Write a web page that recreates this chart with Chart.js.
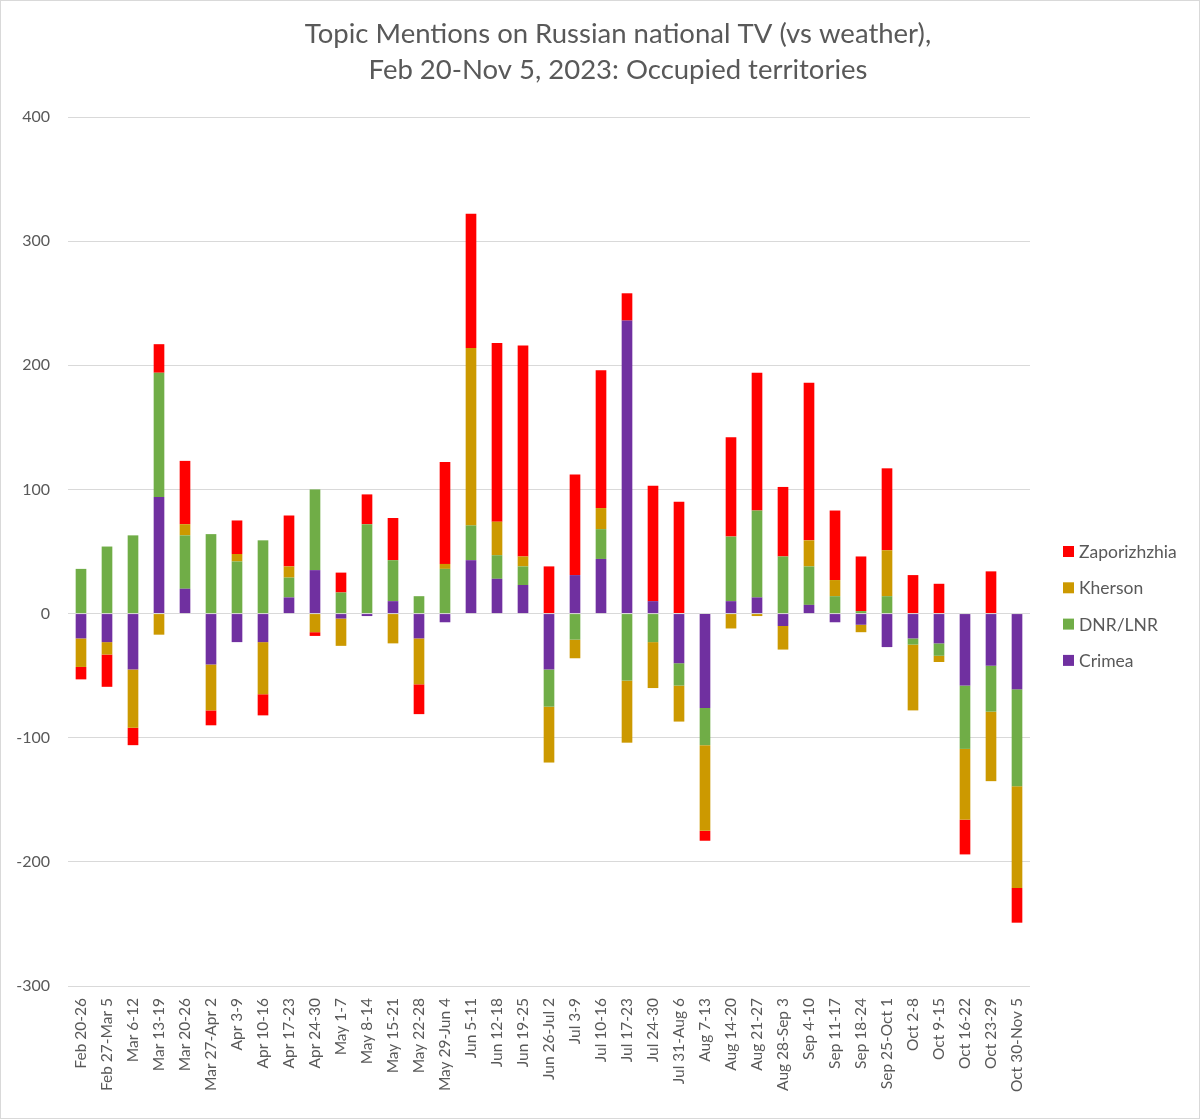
<!DOCTYPE html>
<html>
<head>
<meta charset="utf-8">
<title>Topic Mentions on Russian national TV</title>
<script src="https://cdn.jsdelivr.net/npm/chart.js@4.4.0/dist/chart.umd.min.js"></script>
<style>
    html, body { margin: 0; padding: 0; background: #fff; }
    #wrap { position: relative; width: 1200px; height: 1119px; }
</style>
</head>
<body>
<div id="wrap"><canvas id="mentionsChart" width="1200" height="1119"></canvas></div>
<script>
const weeks = [
    'Feb 20-26', 'Feb 27-Mar 5', 'Mar 6-12', 'Mar 13-19', 'Mar 20-26', 'Mar 27-Apr 2',
    'Apr 3-9', 'Apr 10-16', 'Apr 17-23', 'Apr 24-30', 'May 1-7', 'May 8-14',
    'May 15-21', 'May 22-28', 'May 29-Jun 4', 'Jun 5-11', 'Jun 12-18', 'Jun 19-25',
    'Jun 26-Jul 2', 'Jul 3-9', 'Jul 10-16', 'Jul 17-23', 'Jul 24-30', 'Jul 31-Aug 6',
    'Aug 7-13', 'Aug 14-20', 'Aug 21-27', 'Aug 28-Sep 3', 'Sep 4-10', 'Sep 11-17',
    'Sep 18-24', 'Sep 25-Oct 1', 'Oct 2-8', 'Oct 9-15', 'Oct 16-22', 'Oct 23-29',
    'Oct 30-Nov 5'
];

const crimea = [
    -20, -23, -45, 94, 20, -41, -23, -23, 13, 35, -4, -2,
    10, -20, -7, 43, 28, 23, -45, 31, 44, 236, 10, -40,
    -76, 10, 13, -10, 7, -7, -9, -27, -20, -24, -58, -42,
    -61
];
const dnrLnr = [
    36, 54, 63, 100, 43, 64, 42, 59, 16, 65, 17, 72,
    33, 14, 36, 28, 19, 15, -30, -21, 24, -54, -23, -18,
    -30, 52, 70, 46, 31, 14, 2, 14, -5, -10, -51, -37,
    -78
];
const kherson = [
    -23, -10, -47, -17, 9, -37, 6, -42, 9, -15, -22, 0,
    -24, -37, 4, 143, 27, 8, -45, -15, 17, -50, -37, -29,
    -69, -12, -2, -19, 21, 13, -6, 37, -53, -5, -57, -56,
    -82
];
const zaporizhzhia = [
    -10, -26, -14, 23, 51, -12, 27, -17, 41, -3, 16, 24,
    34, -24, 82, 108, 144, 170, 38, 81, 111, 22, 93, 90,
    -8, 80, 111, 56, 127, 56, 44, 66, 31, 24, -28, 34,
    -28
];

const yMin = -300;
const yMax = 400;
const yStep = 100;

const titleLines = [
    'Topic Mentions on Russian national TV (vs weather),',
    'Feb 20-Nov 5, 2023: Occupied territories'
];

const textColor = '#595959';
const gridColor = '#d9d9d9';
const fontFamily = 'Lato, "Liberation Sans", sans-serif';

// title, legend and chart frame, drawn in the style of the Excel original
const decorations = {
    id: 'decorations',
    afterDraw(chart) {
        const ctx = chart.ctx;
        ctx.save();

        ctx.strokeStyle = gridColor;
        ctx.lineWidth = 1;
        ctx.strokeRect(0.5, 0.5, chart.width - 1, chart.height - 1);

        ctx.fillStyle = textColor;
        ctx.font = `27.5px ${fontFamily}`;
        ctx.textAlign = 'center';
        ctx.textBaseline = 'middle';
        ctx.fillText(titleLines[0], 618, 34);
        ctx.fillText(titleLines[1], 618, 70);

        // legend, top item is the last dataset
        const items = chart.data.datasets.slice().reverse();
        ctx.font = `17.5px ${fontFamily}`;
        ctx.textAlign = 'left';
        items.forEach((ds, i) => {
            const y = 551.5 + i * 36.3;
            ctx.fillStyle = ds.backgroundColor;
            ctx.fillRect(1063, y - 5.5, 11, 11);
            ctx.fillStyle = textColor;
            ctx.fillText(ds.label, 1079, y + 1);
        });

        ctx.restore();
    }
};

document.addEventListener('DOMContentLoaded', () => {
    const ctx = document.getElementById('mentionsChart').getContext('2d');
    new Chart(ctx, {
        type: 'bar',
        data: {
            labels: weeks,
            datasets: [{
                label: 'Crimea',
                data: crimea,
                backgroundColor: '#7030a0'
            }, {
                label: 'DNR/LNR',
                data: dnrLnr,
                backgroundColor: '#70ad47'
            }, {
                label: 'Kherson',
                data: kherson,
                backgroundColor: '#cc9900'
            }, {
                label: 'Zaporizhzhia',
                data: zaporizhzhia,
                backgroundColor: '#ff0000'
            }]
        },
        options: {
            responsive: false,
            animation: false,
            layout: {
                padding: { top: 117, left: 0, right: 170, bottom: 0 }
            },
            datasets: {
                bar: {
                    categoryPercentage: 1,
                    barPercentage: 0.41
                }
            },
            plugins: {
                legend: { display: false },
                title: { display: false },
                tooltip: { enabled: false }
            },
            scales: {
                x: {
                    stacked: true,
                    grid: { display: false, drawTicks: false },
                    border: { display: false },
                    ticks: {
                        color: textColor,
                        font: { family: fontFamily, size: 15.5 },
                        minRotation: 90,
                        maxRotation: 90,
                        autoSkip: false,
                        padding: 12
                    },
                    afterFit: scale => { scale.height = 133; }
                },
                y: {
                    stacked: true,
                    min: yMin,
                    max: yMax,
                    grid: { color: gridColor, lineWidth: 1, drawTicks: false },
                    border: { display: false },
                    ticks: {
                        stepSize: yStep,
                        color: textColor,
                        font: { family: fontFamily, size: 16 },
                        padding: 18
                    },
                    afterFit: scale => { scale.width = 68; }
                }
            }
        },
        plugins: [decorations]
    });
});
</script>
</body>
</html>
